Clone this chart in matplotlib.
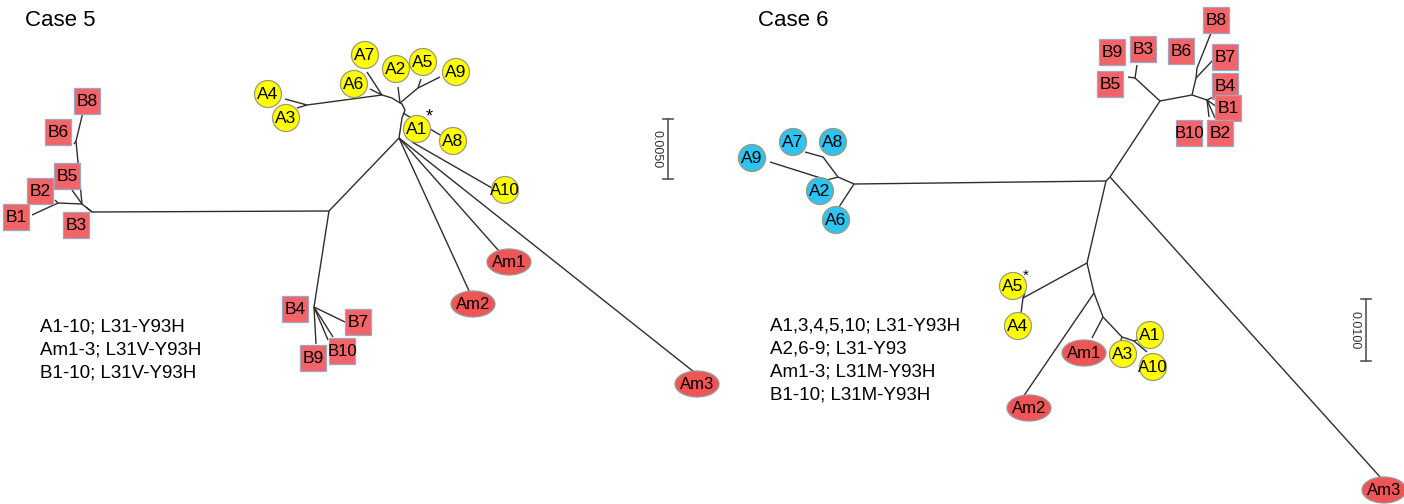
#!/usr/bin/env python3
"""
Two unrooted NS5A trees (Case 5, Case 6) drawn on one pixel-space canvas.
Branch polylines and tip positions are read off the original figure.
"""
import matplotlib
matplotlib.use('Agg')
import matplotlib.pyplot as plt
from matplotlib.patches import Circle, Ellipse, Rectangle

plt.rcParams['font.family'] = ['Liberation Sans', 'DejaVu Sans']

# ---- Case 5 ----
c5_branches = [
    [(329, 211), (92, 212), (82, 204), (76, 141), (83, 112)],
    [(76, 141), (74, 144)],
    [(82, 204), (72, 190)],
    [(82, 204), (58, 203), (32, 215)],
    [(58, 203), (55, 200)],
    [(92, 212), (86, 207)],
    [(329, 211), (314, 307)],
    [(314, 307), (347, 323)],
    [(314, 307), (333, 337)],
    [(314, 307), (328, 340)],
    [(314, 307), (316, 344)],
    [(329, 211), (399, 138)],
    [(399, 138), (470, 293)],
    [(399, 138), (499, 251)],
    [(399, 138), (694, 372)],
    [(399, 138), (402, 118), (405, 110), (402, 104), (400, 103)],
    [(403, 113), (442, 136)],
    [(412, 142), (492, 188)],
    [(400, 103), (398, 87)],
    [(400, 103), (418, 88), (440, 77)],
    [(418, 88), (421, 79)],
    [(400, 103), (392, 98), (382, 95), (307, 105), (285, 99)],
    [(307, 105), (297, 108)],
    [(382, 95), (370, 89)],
    [(382, 95), (367, 72)],
]
c5_circles = [('A7', 365, 55), ('A2', 396, 69), ('A5', 423, 62), ('A9', 456, 72),
              ('A6', 354, 84), ('A4', 268, 94), ('A3', 286, 118), ('A1', 417, 129),
              ('A8', 453, 141), ('A10', 505, 190)]
c5_squares = [('B8', 87, 101), ('B6', 58, 132), ('B5', 67, 176), ('B2', 40, 191),
              ('B1', 16, 217), ('B3', 76, 225), ('B4', 295, 309), ('B7', 358, 322),
              ('B10', 342, 351), ('B9', 313, 358)]
c5_ellipses = [('Am1', 509, 262), ('Am2', 473, 304), ('Am3', 697, 384)]
c5_legend = ['A1-10; L31-Y93H', 'Am1-3; L31V-Y93H', 'B1-10; L31V-Y93H']
c5_scale = '0.0050'

# ---- Case 6 ----
c6_branches = [
    [(1106, 181), (854, 184)],
    [(854, 184), (839, 207)],
    [(854, 184), (838, 177), (823, 157), (805, 152)],
    [(838, 177), (827, 180), (770, 162)],
    [(1106, 181), (1110, 177), (1160, 101), (1135, 78), (1137, 65)],
    [(1135, 78), (1128, 77)],
    [(1160, 101), (1192, 95), (1196, 78), (1197, 68), (1211, 33)],
    [(1196, 78), (1215, 58)],
    [(1192, 95), (1207, 100), (1213, 97)],
    [(1207, 100), (1217, 107)],
    [(1207, 100), (1209, 117)],
    [(1207, 100), (1215, 118)],
    [(1110, 177), (1381, 478)],
    [(1106, 181), (1087, 263), (1023, 298), (1021, 313)],
    [(1023, 298), (1025, 293)],
    [(1087, 263), (1094, 293), (1103, 317), (1122, 337), (1134, 341), (1142, 338)],
    [(1134, 341), (1147, 352)],
    [(1122, 337), (1120, 343)],
    [(1103, 317), (1092, 338)],
    [(1094, 293), (1023, 397)],
]
c6_blue = [('A9', 752, 158), ('A7', 793, 142), ('A8', 833, 142),
           ('A2', 820, 191), ('A6', 836, 220)]
c6_circles = [('A5', 1013, 286), ('A4', 1018, 326), ('A1', 1150, 335),
              ('A3', 1123, 354), ('A10', 1153, 367)]
c6_squares = [('B8', 1216, 20), ('B9', 1112, 52), ('B3', 1143, 49), ('B6', 1181, 51),
              ('B7', 1225, 57), ('B5', 1110, 84), ('B4', 1225, 86), ('B1', 1228, 108),
              ('B10', 1189, 133), ('B2', 1220, 133)]
c6_ellipses = [('Am1', 1084, 353), ('Am2', 1029, 408), ('Am3', 1384, 490)]
c6_legend = ['A1,3,4,5,10; L31-Y93H', 'A2,6-9; L31-Y93',
             'Am1-3; L31M-Y93H', 'B1-10; L31M-Y93H']
c6_scale = '0.0100'

LINE = '#2E2E2E'
YELLOW = '#FFFF00'
BLUE = '#2FC3F1'
RED = '#F26468'
RED_OVAL = '#EE5656'

fig = plt.figure(figsize=(14.04, 5.04), dpi=100)
ax = fig.add_axes([0, 0, 1, 1])
ax.set_xlim(0, 1404)
ax.set_ylim(504, 0)
ax.axis('off')


def draw_branches(branches):
    for pts in branches:
        xs = [p[0] for p in pts]
        ys = [p[1] for p in pts]
        ax.plot(xs, ys, color=LINE, lw=1.0, solid_capstyle='butt', zorder=1)


def draw_tips(tips, kind, face):
    for lbl, x, y in tips:
        if kind == 'circle':
            p = Circle((x, y), 13.5, fc=face, ec='#9A9A7A', lw=0.9, zorder=3)
        elif kind == 'square':
            p = Rectangle((x - 13, y - 13), 26, 26, fc=face, ec='#9CA6C6',
                          lw=0.9, zorder=3)
        else:
            p = Ellipse((x, y), 44, 26, fc=face, ec='#999999', lw=0.9, zorder=3)
        ax.add_patch(p)
        fs = 12 if len(lbl) > 2 else 12.5
        ax.text(x, y + 0.5, lbl, ha='center', va='center', fontsize=fs,
                color='black', zorder=4)


def scale_bar(x, y0, y1, lbl):
    ax.plot([x, x], [y0, y1], color='#555555', lw=1.2)
    for yy in (y0, y1):
        ax.plot([x - 5, x + 5], [yy, yy], color='#555555', lw=1.2)
    ax.text(x - 11, (y0 + y1) / 2, lbl, rotation=270, ha='center', va='center',
            fontsize=9, color='#333333')


# Case 5
ax.text(25, 20, 'Case 5', fontsize=16, ha='left', va='center')
draw_branches(c5_branches)
draw_tips(c5_circles, 'circle', YELLOW)
draw_tips(c5_squares, 'square', RED)
draw_tips(c5_ellipses, 'ellipse', RED_OVAL)
ax.text(429, 117, '*', fontsize=13, ha='center', va='center')
scale_bar(668, 119, 179, c5_scale)
for i, s in enumerate(c5_legend):
    ax.text(40, 327 + 23 * i, s, fontsize=13.5, ha='left', va='center')

# Case 6
ax.text(758, 20, 'Case 6', fontsize=16, ha='left', va='center')
draw_branches(c6_branches)
draw_tips(c6_blue, 'circle', BLUE)
draw_tips(c6_circles, 'circle', YELLOW)
draw_tips(c6_squares, 'square', RED)
draw_tips(c6_ellipses, 'ellipse', RED_OVAL)
ax.text(1026, 276, '*', fontsize=11, ha='center', va='center')
scale_bar(1366, 299, 361, c6_scale)
for i, s in enumerate(c6_legend):
    ax.text(770, 326 + 23 * i, s, fontsize=13.5, ha='left', va='center')

fig.savefig('out.png', dpi=100)
